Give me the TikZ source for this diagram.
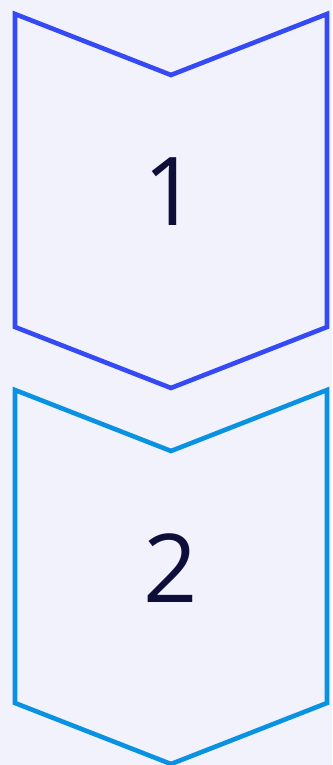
\documentclass[tikz,border=0pt]{standalone}
\usepackage{fontspec}
\setmainfont{Open Sans}
\definecolor{bgc}{HTML}{F2F2FD}
\definecolor{blueA}{HTML}{3549F4}
\definecolor{blueB}{HTML}{0A92E2}
\definecolor{txt}{HTML}{0E0E3A}
\begin{document}
\begin{tikzpicture}[x=1pt,y=-1pt,
  chev/.style={line width=4.6pt,fill=bgc,line join=miter},
  num/.style={text=txt,font=\fontsize{95}{95}\selectfont,inner sep=0pt}]
\useasboundingbox (0,0) rectangle (332,765);
\clip (0,0) rectangle (332,765);
\fill[bgc] (0,0) rectangle (332,765);
\foreach \i/\c/\o in {1/blueA/0,2/blueB/376}{
  \begin{scope}[yshift=-\o pt]
    \draw[chev,draw=\c] (15,14) -- (171,75) -- (327,14) -- (327,327) -- (171,388) -- (15,327) -- cycle;
    \node[num] (n\i) at (171,192) {\i};
  \end{scope}
}
\end{tikzpicture}
\end{document}
